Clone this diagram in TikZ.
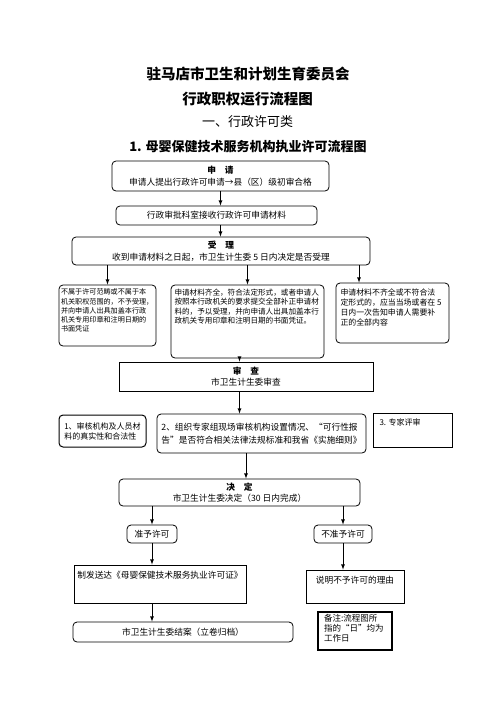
\documentclass[tikz,border=0pt]{standalone}
\usepackage{fontspec}
\setmainfont{Noto Sans CJK SC}
\usepackage{tikz}
\usetikzlibrary{arrows}
\newcommand{\sz}[2]{\fontsize{#1}{#2}\selectfont}
\newcommand{\topbox}[3]{\parbox[c][#2pt][t]{#1pt}{#3}}

\begin{document}
\begin{tikzpicture}[x=1pt,y=-1pt,
    rbox/.style={draw,rounded corners=4pt,line width=0.8pt,inner sep=0pt,align=center},
    sbox/.style={draw,line width=0.8pt,inner sep=0pt,align=center},
    arr/.style={->,>=latex,line width=0.8pt}]
\useasboundingbox (0,0) rectangle (496,702);
% titles
\node[font=\sz{14.5}{16}\bfseries] (t1) at (248,74) {驻马店市卫生和计划生育委员会};
\node[font=\sz{14.5}{16}\bfseries] (t2) at (247.5,99) {行政职权运行流程图};
\node[font=\sz{13}{15}] (t3) at (247.5,122) {一、行政许可类};
\node[font=\sz{13}{15}\bfseries] (t4) at (248,147) {1. 母婴保健技术服务机构执业许可流程图};
% application and acceptance
\node[rbox,minimum width=217,minimum height=30,font=\sz{8.7}{12}] (shen) at (220.5,176)
    {\textbf{申\quad 请}\\申请人提出行政许可申请→县（区）级初审合格};
\node[rbox,minimum width=201,minimum height=19,font=\sz{8.7}{11}] (jieshou) at (216.5,215.5)
    {行政审批科室接收行政许可申请材料};
\node[rbox,minimum width=298,minimum height=28,font=\sz{8.7}{12.5}] (shouli) at (221,251)
    {\textbf{受\quad 理}\\收到申请材料之日起，市卫生计生委 5 日内决定是否受理};
\node[rbox,minimum width=97,minimum height=61] (n4a) at (107.5,315.5)
    {\topbox{93}{53}{\sz{7.1}{9.2}不属于许可范畴或不属于本\\机关职权范围的，不予受理，\\并向申请人出具加盖本行政\\机关专用印章和注明日期的\\书面凭证}};
\node[rbox,minimum width=153,minimum height=73] (n4b) at (247.5,321.5)
    {\topbox{146}{65}{\sz{7.6}{9.3}申请材料齐全，符合法定形式，或者申请人\\按照本行政机关的要求提交全部补正申请材\\料的，予以受理，并向申请人出具加盖本行\\政机关专用印章和注明日期的书面凭证。}};
\node[rbox,minimum width=113,minimum height=60] (n4c) at (392.5,313)
    {\topbox{104}{48}{\sz{7.9}{10}申请材料不齐全或不符合法\\定形式的，应当当场或者在~5\\日内一次告知申请人需要补\\正的全部内容}};
% review
\node[sbox,minimum width=254,minimum height=29,font=\sz{8.7}{11}] (shencha) at (246,376.5)
    {\textbf{审\quad 查}\\市卫生计生委审查};
\node[rbox,minimum width=87,minimum height=32,line width=1pt,align=left,font=\sz{8}{10}] (n6a) at (102.5,431)
    {1、审核机构及人员材\\料的真实性和合法性};
\node[rbox,minimum width=209,minimum height=39,align=left,font=\sz{8.7}{13}] (n6b) at (261.5,433.5)
    {2、组织专家组现场审核机构设置情况、“可行性报\\告”是否符合相关法律法规标准和我省《实施细则》};
\node[sbox,minimum width=79,minimum height=34] (n6c) at (412.5,430)
    {\topbox{66}{22}{\sz{8}{10}3. 专家评审}};
% decision
\node[rbox,minimum width=241,minimum height=27,font=\sz{8.7}{11}] (jueding) at (239.5,492.5)
    {\textbf{决\quad 定}\\市卫生计生委决定（30 日内完成）};
\node[rbox,minimum width=50,minimum height=18,font=\sz{8.7}{11}] (zhun) at (152,534) {准予许可};
\node[rbox,minimum width=58,minimum height=18,font=\sz{8.7}{11}] (buzhun) at (343,534) {不准予许可};
\node[sbox,minimum width=172,minimum height=38] (zhifa) at (160,584)
    {\topbox{166}{26.6}{\centering\sz{8.7}{11}制发送达《母婴保健技术服务执业许可证》}};
\node[sbox,minimum width=98,minimum height=33] (shuoming) at (355,586.5)
    {\topbox{92}{21.6}{\centering\sz{8.7}{11}说明不予许可的理由}};
\node[rbox,minimum width=220,minimum height=20,font=\sz{8.7}{11}] (jiean) at (183,632)
    {市卫生计生委结案（立卷归档）};
\node[sbox,minimum width=74,minimum height=38,line width=1.1pt] (beizhu) at (355,631)
    {\topbox{62}{34}{\sz{8.5}{10}备注:流程图所\\指的“日”均为\\工作日}};
% connectors
\coordinate (c4c) at ([xshift=-33.5pt]n4c.north);
\draw[arr] (shen.south) -- (shen.south |- jieshou.north);
\draw[arr] (jieshou.south -| shen.south) -- (shouli.north -| shen.south);
\draw[arr] (shouli.south -| n4a.north) -- (n4a.north);
\draw[arr] (shouli.south -| n4b.north) -- (n4b.north);
\draw[arr] (shouli.south -| c4c) -- (c4c);
\draw[arr] (n4b.south -| jueding.north) -- (shencha.north -| jueding.north);
\draw[arr] (shencha.south -| jueding.north) -- (n6b.north -| jueding.north);
\draw[arr] (n6b.south -| shencha.south) -- (jueding.north -| shencha.south);
\draw[arr] (jueding.south -| zhun.north) -- (zhun.north);
\draw[arr] (jueding.south -| buzhun.north) -- (buzhun.north);
\draw[arr] (zhun.south) -- (zhun.south |- zhifa.north);
\draw[arr] (buzhun.south) -- (buzhun.south |- shuoming.north);
\draw[arr] (zhifa.south -| zhun.south) -- (jiean.north -| zhun.south);
\end{tikzpicture}
\end{document}
